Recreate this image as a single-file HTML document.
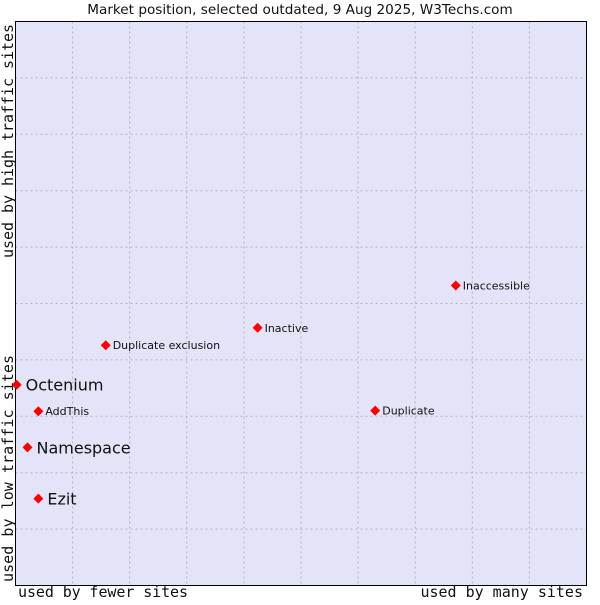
<!DOCTYPE html>
<html><head><meta charset="utf-8"><style>
body{margin:0;background:#fff;width:600px;height:600px;overflow:hidden}
svg text{font-family:"DejaVu Sans","Liberation Sans",sans-serif;fill:#111}
.mono{font-family:"DejaVu Sans Mono","Liberation Mono",monospace}
</style></head><body>
<svg id="chart" width="600" height="600">
<text x="300" y="14" text-anchor="middle" font-size="13.6">Market position, selected outdated, 9 Aug 2025, W3Techs.com</text>
<rect x="15.5" y="21.5" width="571" height="564" fill="#e4e4f8" stroke="#000"/>
<g id="grid"></g>
<rect x="15.5" y="21.5" width="571" height="564" fill="none" stroke="#000"/>
<g id="pts"></g>
<text class="mono" x="18" y="597" font-size="15" textLength="170">used by fewer sites</text>
<text class="mono" x="583" y="597" font-size="15" text-anchor="end">used by many sites</text>
<text class="mono" transform="translate(13,582) rotate(-90)" font-size="15" textLength="227">used by low traffic sites</text>
<text class="mono" transform="translate(13,258) rotate(-90)" font-size="15" textLength="234">used by high traffic sites</text>
</svg>
<script>
const names=["Octenium","AddThis","Namespace","Ezit","Duplicate exclusion","Inactive","Duplicate","Inaccessible"];
const xs=[0.002,0.040,0.021,0.040,0.158,0.424,0.630,0.771];
const ys=[0.356,0.309,0.245,0.154,0.426,0.457,0.310,0.532];
const big=[true,false,true,true,false,false,false,false];
const X0=15.5,W=571,Y0=585.5,H=564;
const sx=v=>X0+v*W, sy=v=>Y0-v*H;
const ns="http://www.w3.org/2000/svg";
const g=document.getElementById('grid');
for(let i=1;i<10;i++){
 const v=document.createElementNS(ns,'line');
 
 
 v.setAttribute('x1',sx(i/10));v.setAttribute('x2',sx(i/10));v.setAttribute('y1',21.5);v.setAttribute('y2',585.5);
 v.setAttribute('stroke','#b4b4b4');v.setAttribute('stroke-dasharray','2,3');g.appendChild(v);
 const h=document.createElementNS(ns,'line');
 
 
 h.setAttribute('y1',sy(i/10));h.setAttribute('y2',sy(i/10));h.setAttribute('x1',15.5);h.setAttribute('x2',586.5);
 h.setAttribute('stroke','#b4b4b4');h.setAttribute('stroke-dasharray','2,3');g.appendChild(h);
}
const p=document.getElementById('pts');
names.forEach((n,i)=>{
 const cx=sx(xs[i]),cy=sy(ys[i]);
 const d=document.createElementNS(ns,'path');
 
 
 d.setAttribute('d',`M${cx-5} ${cy}L${cx} ${cy-5}L${cx+5} ${cy}L${cx} ${cy+5}Z`);
 d.setAttribute('fill','#f00');p.appendChild(d);
 const t=document.createElementNS(ns,'text');
 
 
 t.setAttribute('x',cx+(big[i]?9:7));t.setAttribute('y',cy+(big[i]?6:4));
 t.setAttribute('font-size',big[i]?16:11);t.textContent=n;p.appendChild(t);
});
</script>
</body></html>
